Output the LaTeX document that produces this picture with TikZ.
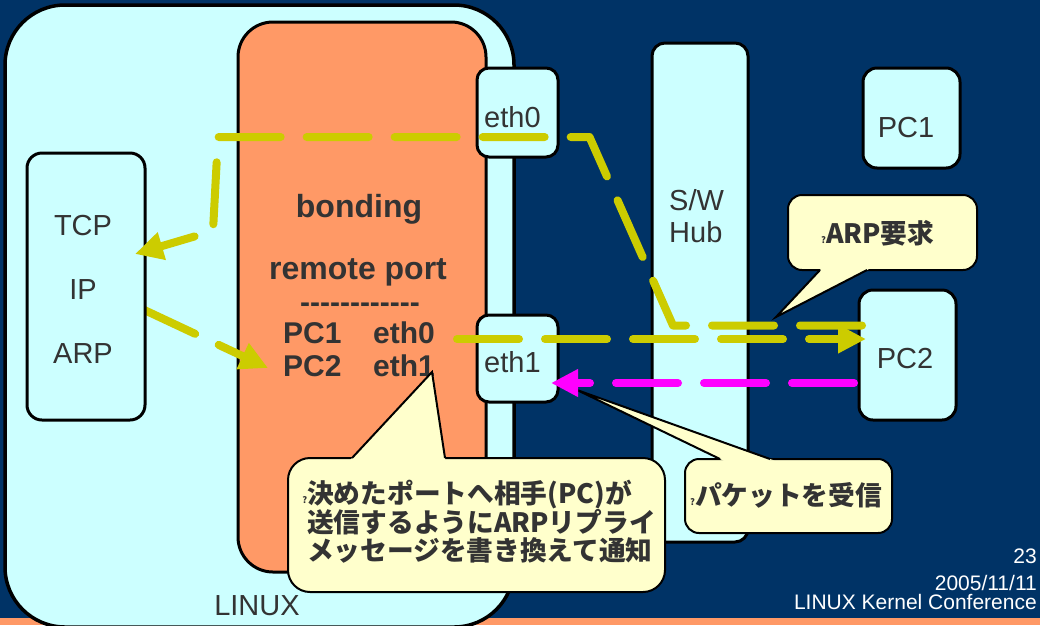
\documentclass[tikz,border=0pt]{standalone}
\usepackage{fontspec}
\setmainfont{Liberation Sans}
\newfontfamily\cjk{Noto Sans CJK JP}
\usetikzlibrary{arrows.meta,calc}

\definecolor{navy}{HTML}{003366}
\definecolor{pale}{HTML}{CCFFFF}
\definecolor{salmon}{HTML}{FF9966}
\definecolor{olive}{HTML}{CCCC00}
\definecolor{pink}{HTML}{FF00FF}
\definecolor{cream}{HTML}{FFFFCC}
\definecolor{ink}{HTML}{333333}

\begin{document}
\begin{tikzpicture}[x=1pt,y=-1pt,
  frame/.style={draw=black,line width=3pt,fill=pale,inner sep=0pt,outer sep=0pt},
  lbl/.style={inner sep=0pt,text=ink,font=\fontsize{29}{29}\selectfont},
  blbl/.style={inner sep=0pt,text=ink,font=\fontsize{30}{30}\selectfont\bfseries},
  bigblbl/.style={blbl,font=\fontsize{32}{32}\selectfont\bfseries},
  foot/.style={inner sep=0pt,text=white,font=\fontsize{21}{21}\selectfont,anchor=base east},
  calltxt/.style={inner sep=0pt,text=ink,anchor=base west,font=\fontsize{26.7}{26.7}\selectfont\cjk\bfseries},
  callbox/.style={draw=black,line width=2pt,fill=cream},
  callline/.style={draw=black,line width=2pt},
  flow/.style={line width=8pt,line cap=round,line join=round,dash pattern=on 62pt off 26pt},
  yflow/.style={flow,draw=olive,-{Triangle[length=28pt,width=27pt,fill=olive]}},
  mflow/.style={flow,draw=pink,-{Triangle[length=27pt,width=26pt,fill=pink]}}
]
\useasboundingbox (0,0) rectangle (1040,625);
\clip (0,0) rectangle (1040,625);

% slide background and bottom band
\fill[navy] (0,0) rectangle (1040,625);
\fill[salmon] (0,618) rectangle (1040,625);

% LINUX host and bonding driver
\node[frame,line width=3.5pt,rounded corners=60pt,minimum width=509pt,minimum height=622pt] (linux) at (259.5,316) {};
\node[lbl,anchor=base] (linuxlbl) at (257,615) {LINUX};
\node[frame,fill=salmon,rounded corners=35pt,minimum width=248pt,minimum height=550pt] (bond) at (362,297) {};
\node[bigblbl,anchor=base] (bondlbl) at (359,217) {bonding};
\node[bigblbl,anchor=base] (remote) at (358,279) {remote port};
\node[blbl,anchor=base] (rule) at (360,312) {-{}-{}-{}-{}-{}-{}-{}-{}-{}-{}-{}-};
\node[blbl,anchor=base west] (pc1a) at (283,343) {PC1};
\node[blbl,anchor=base west] (eth0a) at (373,343) {eth0};
\node[blbl,anchor=base west] (pc2a) at (283,376) {PC2};
\node[blbl,anchor=base west] (eth1a) at (373,376) {eth1};

% reply leaving the protocol stack (starts under the stack box)
\coordinate (y2s) at (139,307.5);
\coordinate (y2e) at (268,368);
\draw[yflow] (y2s) -- (y2e);

% protocol stack
\node[frame,rounded corners=15pt,minimum width=118pt,minimum height=267pt] (stack) at (86,286.5) {};
\node[lbl,anchor=base] (tcp) at (83,235) {TCP};
\node[lbl,anchor=base] (ip) at (83,299) {IP};
\node[lbl,anchor=base] (arp) at (83,363) {ARP};

% interfaces, hub and peers
\node[frame,rounded corners=12pt,minimum width=81pt,minimum height=89pt] (eth0) at (517.5,112.5) {};
\node[lbl,anchor=base west] (eth0lbl) at (484,127) {eth0};
\node[frame,rounded corners=12pt,minimum width=81pt,minimum height=87pt] (eth1) at (517.5,358.5) {};
\node[lbl,anchor=base west] (eth1lbl) at (484,372) {eth1};
\node[frame,rounded corners=13pt,minimum width=96pt,minimum height=499pt] (hub) at (700,292.5) {};
\node[lbl,anchor=base west] (sw) at (669,210) {S/W};
\node[lbl,anchor=base west] (hublbl) at (669,242) {Hub};
\node[frame,rounded corners=14pt,minimum width=97pt,minimum height=100pt] (pc1) at (911.5,118) {};
\node[lbl,anchor=base] (pc1lbl) at (906,137) {PC1};
\node[frame,rounded corners=14pt,minimum width=97pt,minimum height=130pt] (pc2) at (907.5,355) {};
\node[lbl,anchor=base] (pc2lbl) at (905,368) {PC2};

% callout: ARP request
\coordinate (ab1) at (820,270);
\coordinate (ab2) at (867,270);
\coordinate (atip) at (776,317);
\filldraw[callbox,rounded corners=14pt] (788,195) rectangle (977,270);
\fill[cream] (atip) -- ($(ab1)!-5pt!(atip)$) -- ($(ab2)!-5pt!(atip)$) -- cycle;
\draw[callline] (ab1) -- (atip) -- (ab2);
\node[calltxt] (arpreq) at (821,243) {{\fontsize{9}{9}\selectfont ?}ARP要求};

% callout: packet received
\coordinate (kb1) at (720,459);
\coordinate (kb2) at (770,459);
\coordinate (ktip) at (577,390);
\filldraw[callbox,rounded corners=14pt] (685,459) rectangle (892,533);
\fill[cream] (ktip) -- ($(kb1)!-5pt!(ktip)$) -- ($(kb2)!-5pt!(ktip)$) -- cycle;
\draw[callline] (kb1) -- (ktip) -- (kb2);
\node[calltxt] (recv) at (690,505) {{\fontsize{9}{9}\selectfont ?}パケットを受信};

% callout: rewritten ARP reply
\coordinate (bb1) at (352,458);
\coordinate (bb2) at (445,458);
\coordinate (btip) at (432,372);
\filldraw[callbox,rounded corners=22pt] (288,458) rectangle (665,592);
\fill[cream] (btip) -- ($(bb1)!-5pt!(btip)$) -- ($(bb2)!-5pt!(btip)$) -- cycle;
\draw[callline] (bb1) -- (btip) -- (bb2);
\node[calltxt] (note1) at (307,503) {\llap{\fontsize{9}{9}\selectfont ?}決めたポートへ相手(PC)が};
\node[calltxt] (note2) at (307,532) {送信するようにARPリプライ};
\node[calltxt] (note3) at (307,560) {メッセージを書き換えて通知};

% ARP request from PC2 up to the stack
\coordinate (y1a) at (862,325.5);
\coordinate (y1b) at (673,325.5);
\coordinate (y1c) at (589.5,137);
\coordinate (y1d) at (218,137);
\coordinate (y1e) at (213,231);
\coordinate (y1f) at (135,254);
\draw[yflow] (y1a) -- (y1b) -- (y1c) -- (y1d) -- (y1e) -- (y1f);

% reply sent out towards PC2
\coordinate (y3s) at (457,339);
\coordinate (y3e) at (866,339);
\draw[yflow] (y3s) -- (y3e);

% PC2 traffic arriving on eth1
\coordinate (ms) at (854,383);
\coordinate (me) at (551,383);
\draw[mflow] (ms) -- (me);

% footer
\node[foot] (page) at (1037,563) {23};
\node[foot] (date) at (1037,590) {2005/11/11};
\node[foot] (conf) at (1037,609) {LINUX Kernel Conference};
\end{tikzpicture}
\end{document}
